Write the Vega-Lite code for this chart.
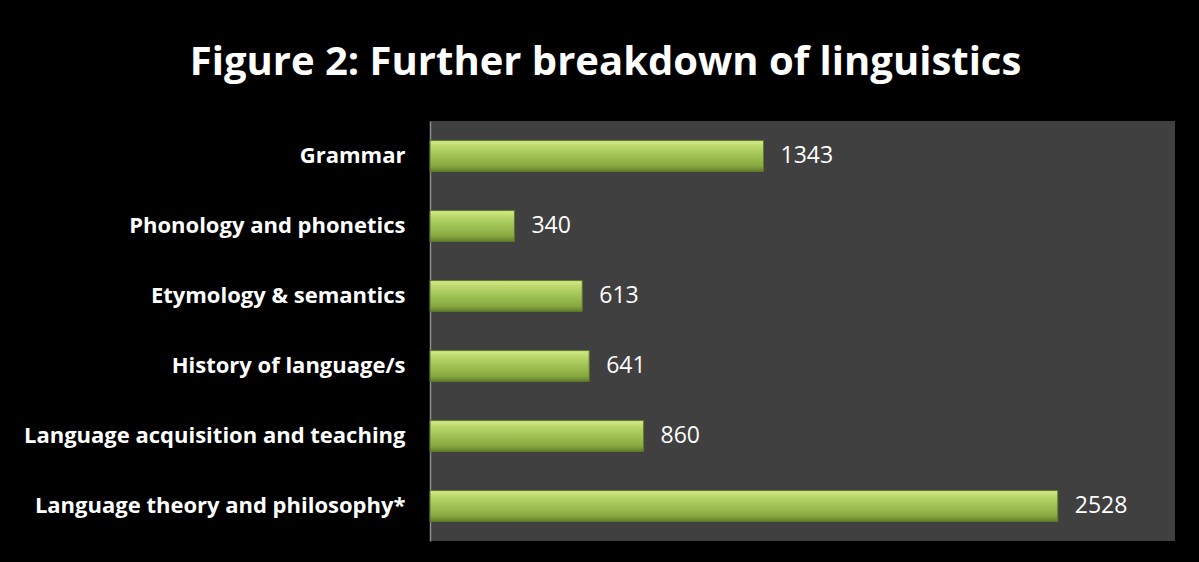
{
  "$schema": "https://vega.github.io/schema/vega-lite/v6.json",
  "width": 745,
  "height": 420,
  "autosize": {"type": "none"},
  "padding": {"left": 430, "top": 121, "right": 24, "bottom": 21},
  "background": "#000000",
  "title": {
    "text": "Figure 2: Further breakdown of linguistics",
    "color": "#ffffff",
    "font": "Open Sans",
    "fontSize": 40,
    "fontWeight": "bold",
    "anchor": "middle",
    "frame": "group",
    "dx": -197,
    "offset": 38
  },
  "config": {"view": {"fill": "#404040", "stroke": null}},
  "data": {
    "values": [
      {"category": "Grammar", "count": 1343},
      {"category": "Phonology and phonetics", "count": 340},
      {"category": "Etymology & semantics", "count": 613},
      {"category": "History of language/s", "count": 641},
      {"category": "Language acquisition and teaching", "count": 860},
      {"category": "Language theory and philosophy*", "count": 2528}
    ]
  },
  "encoding": {
    "y": {
      "field": "category",
      "type": "nominal",
      "sort": null,
      "scale": {"paddingInner": 0.56, "paddingOuter": 0.28},
      "axis": {
        "title": null,
        "domain": true,
        "domainColor": "#8c8c8c",
        "domainWidth": 1.5,
        "ticks": false,
        "grid": false,
        "labelColor": "#ffffff",
        "labelFont": "Open Sans",
        "labelFontWeight": "bold",
        "labelFontSize": 22,
        "labelPadding": 25,
        "labelLimit": 0
      }
    },
    "x": {
      "field": "count",
      "type": "quantitative",
      "scale": {"domain": [0, 3000]},
      "axis": null
    }
  },
  "layer": [
    {
      "mark": {
        "type": "bar",
        "stroke": "#5f7a2a",
        "strokeWidth": 1,
        "color": {
          "gradient": "linear",
          "x1": 0, "y1": 0, "x2": 0, "y2": 1,
          "stops": [
            {"offset": 0, "color": "#d6ee8e"},
            {"offset": 0.18, "color": "#bcd96c"},
            {"offset": 0.5, "color": "#9fc254"},
            {"offset": 0.82, "color": "#88a940"},
            {"offset": 1, "color": "#637f2c"}
          ]
        }
      }
    },
    {
      "mark": {
        "type": "text",
        "align": "left",
        "baseline": "middle",
        "dx": 17,
        "color": "#ffffff",
        "font": "Open Sans",
        "fontSize": 23
      },
      "encoding": {"text": {"field": "count", "type": "quantitative"}}
    }
  ]
}
